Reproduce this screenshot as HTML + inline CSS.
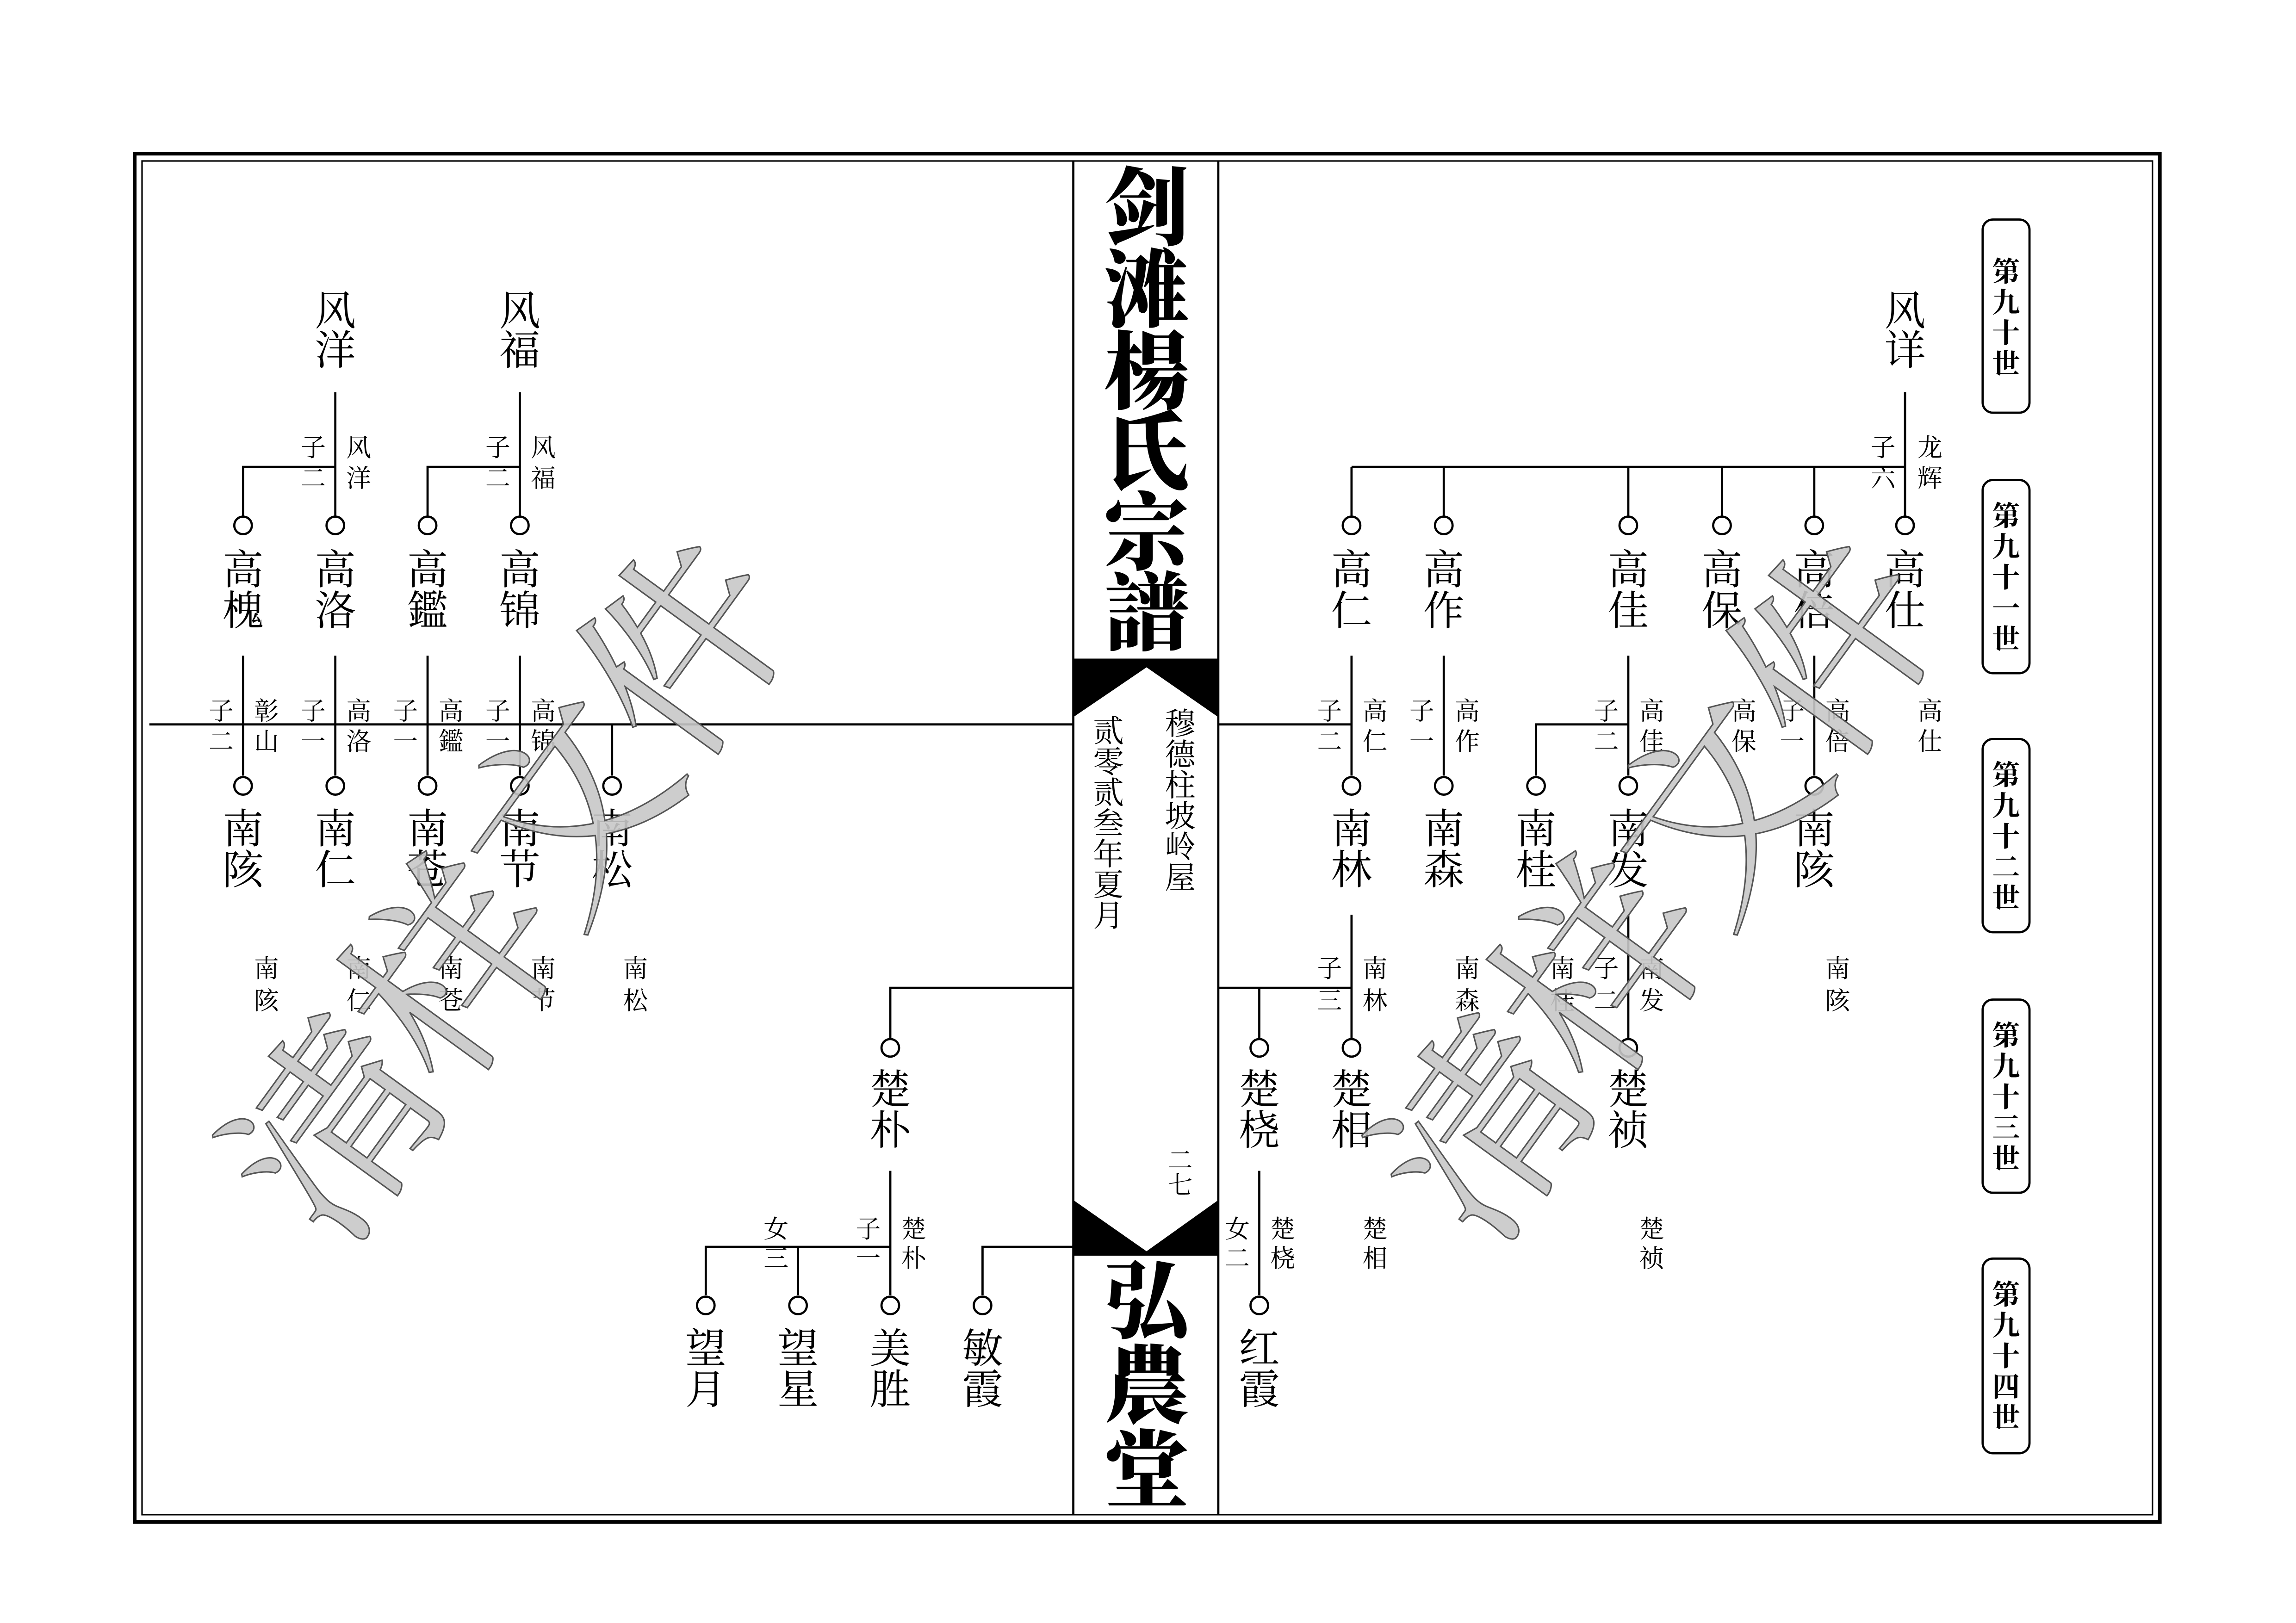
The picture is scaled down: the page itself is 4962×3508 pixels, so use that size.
<!DOCTYPE html>
<html><head><meta charset="utf-8"><style>
html,body{margin:0;padding:0;background:#fff}
svg{display:block}
.n{font-family:"Liberation Serif","Noto Serif CJK SC",serif;font-size:28px;text-anchor:middle;dominant-baseline:central}
.s{font-family:"Liberation Serif","Noto Serif CJK SC",serif;font-size:17px;text-anchor:middle;dominant-baseline:central}
.m{font-family:"Liberation Serif","Noto Serif CJK SC",serif;font-size:21px;text-anchor:middle;dominant-baseline:central}
.t{font-family:"Liberation Serif","Noto Serif CJK SC",serif;font-size:58px;font-weight:900;text-anchor:middle;dominant-baseline:central}
.g{font-family:"Liberation Serif","Noto Serif CJK SC",serif;font-size:19px;font-weight:700;text-anchor:middle;dominant-baseline:central}
.w{font-family:"Liberation Serif","Noto Serif CJK SC",serif;font-size:140px;text-anchor:middle;dominant-baseline:central;fill:#c8c8c8;stroke:#555;stroke-width:1;fill-opacity:.9}
line,polyline{stroke:#000;stroke-width:1.5;fill:none}
circle{stroke:#000;stroke-width:1.5;fill:#fff}
</style></head><body>
<svg width="4962" height="3508" viewBox="0 0 1568 1109" preserveAspectRatio="none" xmlns="http://www.w3.org/2000/svg">
<rect x="92" y="105" width="1383" height="935" fill="none" stroke="#000" stroke-width="2.5"/>
<rect x="97" y="110" width="1373" height="925" fill="none" stroke="#000" stroke-width="1"/>
<line x1="733" y1="110" x2="733" y2="1035"/><line x1="832" y1="110" x2="832" y2="1035"/>
<!-- title -->
<text class="t" x="783" y="143">剑</text><text class="t" x="783" y="199">滩</text><text class="t" x="783" y="255">楊</text><text class="t" x="783" y="310">氏</text><text class="t" x="783" y="365">宗</text><text class="t" x="783" y="420">譜</text>
<polygon points="733,450 832,450 832,490 783,456 733,490" fill="#000"/>
<text class="m" x="757" y="500">贰<tspan x="757" dy="21">零</tspan><tspan x="757" dy="21">贰</tspan><tspan x="757" dy="21">叁</tspan><tspan x="757" dy="21">年</tspan><tspan x="757" dy="21">夏</tspan><tspan x="757" dy="21">月</tspan></text>
<text class="m" x="806" y="495">穆<tspan x="806" dy="21">德</tspan><tspan x="806" dy="21">柱</tspan><tspan x="806" dy="21">坡</tspan><tspan x="806" dy="21">岭</tspan><tspan x="806" dy="21">屋</tspan></text>
<text class="s" x="806" y="793">二<tspan x="806" dy="17">七</tspan></text>
<polygon points="733,820 783,855 832,820 832,858 733,858" fill="#000"/>
<text class="t" x="783" y="890">弘</text><text class="t" x="783" y="948">農</text><text class="t" x="783" y="1006">堂</text>
<!-- generation boxes -->
<g fill="none" stroke="#000" stroke-width="1.5">
<rect x="1354" y="150" width="32" height="132" rx="7"/><rect x="1354" y="328" width="32" height="132" rx="7"/><rect x="1354" y="505" width="32" height="132" rx="7"/><rect x="1354" y="683" width="32" height="132" rx="7"/><rect x="1354" y="860" width="32" height="133" rx="7"/></g>
<text class="g" x="1370" y="186">第<tspan x="1370" dy="21">九</tspan><tspan x="1370" dy="21">十</tspan><tspan x="1370" dy="21">世</tspan></text>
<text class="g" x="1370" y="353">第<tspan x="1370" dy="21">九</tspan><tspan x="1370" dy="21">十</tspan><tspan x="1370" dy="21">一</tspan><tspan x="1370" dy="21">世</tspan></text>
<text class="g" x="1370" y="530">第<tspan x="1370" dy="21">九</tspan><tspan x="1370" dy="21">十</tspan><tspan x="1370" dy="21">二</tspan><tspan x="1370" dy="21">世</tspan></text>
<text class="g" x="1370" y="708">第<tspan x="1370" dy="21">九</tspan><tspan x="1370" dy="21">十</tspan><tspan x="1370" dy="21">三</tspan><tspan x="1370" dy="21">世</tspan></text>
<text class="g" x="1370" y="885">第<tspan x="1370" dy="21">九</tspan><tspan x="1370" dy="21">十</tspan><tspan x="1370" dy="21">四</tspan><tspan x="1370" dy="21">世</tspan></text>

<!-- RIGHT TREE -->
<text class="n" x="1301" y="213">风<tspan x="1301" dy="27">详</tspan></text>
<line x1="1301" y1="268" x2="1301" y2="353"/>
<line x1="923" y1="319" x2="1301" y2="319"/>
<line x1="923" y1="319" x2="923" y2="353"/><line x1="986" y1="319" x2="986" y2="353"/><line x1="1112" y1="319" x2="1112" y2="353"/><line x1="1176" y1="319" x2="1176" y2="353"/><line x1="1239" y1="319" x2="1239" y2="353"/>
<circle cx="923" cy="359" r="6"/><circle cx="986" cy="359" r="6"/><circle cx="1112" cy="359" r="6"/><circle cx="1176" cy="359" r="6"/><circle cx="1239" cy="359" r="6"/><circle cx="1301" cy="359" r="6"/>
<text class="s" x="1286" y="306">子<tspan x="1286" dy="21">六</tspan></text>
<text class="s" x="1318" y="306">龙<tspan x="1318" dy="21">辉</tspan></text>
<text class="n" x="923" y="390">高<tspan x="923" dy="28">仁</tspan></text>
<text class="n" x="986" y="390">高<tspan x="986" dy="28">作</tspan></text>
<text class="n" x="1112" y="390">高<tspan x="1112" dy="28">佳</tspan></text>
<text class="n" x="1176" y="390">高<tspan x="1176" dy="28">保</tspan></text>
<text class="n" x="1239" y="390">高<tspan x="1239" dy="28">倍</tspan></text>
<text class="n" x="1301" y="390">高<tspan x="1301" dy="28">仕</tspan></text>
<line x1="923" y1="448" x2="923" y2="530"/><line x1="986" y1="448" x2="986" y2="530"/><line x1="1112" y1="448" x2="1112" y2="530"/><line x1="1239" y1="448" x2="1239" y2="530"/>
<line x1="832" y1="495" x2="923" y2="495"/>
<polyline points="1049,530 1049,495 1112,495"/>
<circle cx="923" cy="537" r="6"/><circle cx="986" cy="537" r="6"/><circle cx="1049" cy="537" r="6"/><circle cx="1112" cy="537" r="6"/><circle cx="1239" cy="537" r="6"/>
<text class="s" x="908" y="486">子<tspan x="908" dy="21">二</tspan></text><text class="s" x="939" y="486">高<tspan x="939" dy="21">仁</tspan></text>
<text class="s" x="971" y="486">子<tspan x="971" dy="21">一</tspan></text><text class="s" x="1002" y="486">高<tspan x="1002" dy="21">作</tspan></text>
<text class="s" x="1097" y="486">子<tspan x="1097" dy="21">二</tspan></text><text class="s" x="1128" y="486">高<tspan x="1128" dy="21">佳</tspan></text>
<text class="s" x="1191" y="486">高<tspan x="1191" dy="21">保</tspan></text>
<text class="s" x="1224" y="486">子<tspan x="1224" dy="21">一</tspan></text><text class="s" x="1255" y="486">高<tspan x="1255" dy="21">倍</tspan></text>
<text class="s" x="1318" y="486">高<tspan x="1318" dy="21">仕</tspan></text>
<text class="n" x="923" y="567">南<tspan x="923" dy="28">林</tspan></text>
<text class="n" x="986" y="567">南<tspan x="986" dy="28">森</tspan></text>
<text class="n" x="1049" y="567">南<tspan x="1049" dy="28">桂</tspan></text>
<text class="n" x="1112" y="567">南<tspan x="1112" dy="28">发</tspan></text>
<text class="n" x="1239" y="567">南<tspan x="1239" dy="28">陔</tspan></text>
<line x1="923" y1="625" x2="923" y2="710"/><line x1="1112" y1="625" x2="1112" y2="710"/>
<line x1="832" y1="675" x2="923" y2="675"/><line x1="860" y1="675" x2="860" y2="710"/>
<circle cx="860" cy="716" r="6"/><circle cx="923" cy="716" r="6"/><circle cx="1112" cy="716" r="6"/>
<text class="s" x="908" y="662">子<tspan x="908" dy="22">三</tspan></text><text class="s" x="939" y="662">南<tspan x="939" dy="22">林</tspan></text>
<text class="s" x="1002" y="662">南<tspan x="1002" dy="22">森</tspan></text>
<text class="s" x="1067" y="662">南<tspan x="1067" dy="22">桂</tspan></text>
<text class="s" x="1097" y="662">子<tspan x="1097" dy="22">二</tspan></text><text class="s" x="1128" y="662">南<tspan x="1128" dy="22">发</tspan></text>
<text class="s" x="1255" y="662">南<tspan x="1255" dy="22">陔</tspan></text>
<text class="n" x="860" y="745">楚<tspan x="860" dy="28">桡</tspan></text>
<text class="n" x="923" y="745">楚<tspan x="923" dy="28">相</tspan></text>
<text class="n" x="1112" y="745">楚<tspan x="1112" dy="28">祯</tspan></text>
<line x1="860" y1="800" x2="860" y2="885"/><circle cx="860" cy="892" r="6"/>
<text class="s" x="845" y="840">女<tspan x="845" dy="20">二</tspan></text><text class="s" x="876" y="840">楚<tspan x="876" dy="20">桡</tspan></text>
<text class="s" x="939" y="840">楚<tspan x="939" dy="20">相</tspan></text>
<text class="s" x="1128" y="840">楚<tspan x="1128" dy="20">祯</tspan></text>
<text class="n" x="860" y="922">红<tspan x="860" dy="28">霞</tspan></text>

<!-- LEFT TREE -->
<text class="n" x="229" y="213">风<tspan x="229" dy="27">洋</tspan></text>
<text class="n" x="355" y="213">风<tspan x="355" dy="27">福</tspan></text>
<line x1="229" y1="268" x2="229" y2="353"/><line x1="355" y1="268" x2="355" y2="353"/>
<polyline points="166,353 166,319 229,319"/><polyline points="292,353 292,319 355,319"/>
<text class="s" x="214" y="306">子<tspan x="214" dy="21">二</tspan></text><text class="s" x="245" y="306">风<tspan x="245" dy="21">洋</tspan></text>
<text class="s" x="340" y="306">子<tspan x="340" dy="21">二</tspan></text><text class="s" x="371" y="306">风<tspan x="371" dy="21">福</tspan></text>
<circle cx="166" cy="359" r="6"/><circle cx="229" cy="359" r="6"/><circle cx="292" cy="359" r="6"/><circle cx="355" cy="359" r="6"/>
<text class="n" x="166" y="390">高<tspan x="166" dy="28">槐</tspan></text>
<text class="n" x="229" y="390">高<tspan x="229" dy="28">洛</tspan></text>
<text class="n" x="292" y="390">高<tspan x="292" dy="28">鑑</tspan></text>
<text class="n" x="355" y="390">高<tspan x="355" dy="28">锦</tspan></text>
<line x1="166" y1="448" x2="166" y2="530"/><line x1="229" y1="448" x2="229" y2="530"/><line x1="292" y1="448" x2="292" y2="530"/><line x1="355" y1="448" x2="355" y2="530"/>
<line x1="102" y1="495" x2="733" y2="495"/><line x1="418" y1="495" x2="418" y2="530"/>
<circle cx="166" cy="537" r="6"/><circle cx="229" cy="537" r="6"/><circle cx="292" cy="537" r="6"/><circle cx="355" cy="537" r="6"/><circle cx="418" cy="537" r="6"/>
<text class="s" x="151" y="486">子<tspan x="151" dy="21">二</tspan></text><text class="s" x="182" y="486">彰<tspan x="182" dy="21">山</tspan></text>
<text class="s" x="214" y="486">子<tspan x="214" dy="21">一</tspan></text><text class="s" x="245" y="486">高<tspan x="245" dy="21">洛</tspan></text>
<text class="s" x="277" y="486">子<tspan x="277" dy="21">一</tspan></text><text class="s" x="308" y="486">高<tspan x="308" dy="21">鑑</tspan></text>
<text class="s" x="340" y="486">子<tspan x="340" dy="21">一</tspan></text><text class="s" x="371" y="486">高<tspan x="371" dy="21">锦</tspan></text>
<text class="n" x="166" y="567">南<tspan x="166" dy="28">陔</tspan></text>
<text class="n" x="229" y="567">南<tspan x="229" dy="28">仁</tspan></text>
<text class="n" x="292" y="567">南<tspan x="292" dy="28">苍</tspan></text>
<text class="n" x="355" y="567">南<tspan x="355" dy="28">节</tspan></text>
<text class="n" x="418" y="567">南<tspan x="418" dy="28">松</tspan></text>
<text class="s" x="182" y="662">南<tspan x="182" dy="22">陔</tspan></text>
<text class="s" x="245" y="662">南<tspan x="245" dy="22">仁</tspan></text>
<text class="s" x="308" y="662">南<tspan x="308" dy="22">苍</tspan></text>
<text class="s" x="371" y="662">南<tspan x="371" dy="22">节</tspan></text>
<text class="s" x="434" y="662">南<tspan x="434" dy="22">松</tspan></text>
<polyline points="608,710 608,675 733,675"/><circle cx="608" cy="716" r="6"/>
<text class="n" x="608" y="745">楚<tspan x="608" dy="28">朴</tspan></text>
<line x1="608" y1="800" x2="608" y2="885"/>
<polyline points="482,885 482,852 608,852"/><line x1="545" y1="852" x2="545" y2="885"/>
<polyline points="671,885 671,852 733,852"/>
<circle cx="482" cy="892" r="6"/><circle cx="545" cy="892" r="6"/><circle cx="608" cy="892" r="6"/><circle cx="671" cy="892" r="6"/>
<text class="s" x="530" y="840">女<tspan x="530" dy="20">三</tspan></text>
<text class="s" x="593" y="840">子<tspan x="593" dy="20">一</tspan></text><text class="s" x="624" y="840">楚<tspan x="624" dy="20">朴</tspan></text>
<text class="n" x="482" y="922">望<tspan x="482" dy="28">月</tspan></text>
<text class="n" x="545" y="922">望<tspan x="545" dy="28">星</tspan></text>
<text class="n" x="608" y="922">美<tspan x="608" dy="28">胜</tspan></text>
<text class="n" x="671" y="922">敏<tspan x="671" dy="28">霞</tspan></text>

<!-- watermarks -->
<text class="w" x="350" y="610" transform="rotate(-54 350 610)" letter-spacing="-5">清样文件</text>
<text class="w" x="1135" y="610" transform="rotate(-54 1135 610)" letter-spacing="-5">清样文件</text>
</svg>
</body></html>
